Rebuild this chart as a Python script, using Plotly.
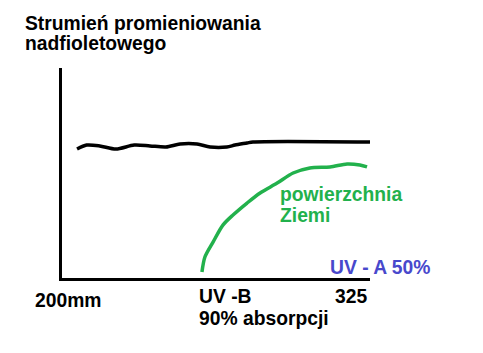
import plotly.graph_objects as go

# Top curve (flux above atmosphere), wavelength in nm vs relative flux
top_x = [206.1, 210.0, 215.3, 221.9, 229.3, 235.7, 242.2, 247.9, 254.8, 260.1, 266.9, 270.2, 275.1, 277.5, 325.0]
top_y = [61.4, 63.3, 62.9, 61.4, 63.3, 62.9, 62.4, 63.8, 63.8, 62.4, 62.4, 63.3, 64.3, 64.8, 64.8]

# Green curve (Earth's surface)
surf_x = [256.8, 258.0, 261.3, 265.3, 269.4, 275.1, 280.4, 287.3, 293.8, 300.6, 308.8, 315.7, 320.9, 323.8]
surf_y = [2.9, 10.0, 17.1, 25.2, 30.0, 35.7, 40.5, 45.2, 50.0, 52.4, 52.9, 54.3, 53.8, 52.9]

title_lines = ["Strumień promieniowania", "nadfioletowego"]
x_labels = ["200mm", "UV -B", "325"]
x_note = "90% absorpcji"
uva_label = "UV - A 50%"
surface_label = ["powierzchnia", "Ziemi"]

W, H = 483, 353
L, R, T, B = 62, 370, 68, 278

def px(xp):
    return (xp - L) / (R - L)

def py(yp):
    return (B - yp) / (B - T)

FONT = "Liberation Sans, Arial, sans-serif"
FS = 19.3
GREEN = "#22B14C"
BLUE = "#4848CC"

fig = go.Figure()
fig.add_trace(go.Scatter(x=top_x, y=top_y, mode="lines",
                         line=dict(color="black", width=3.5, shape="spline", smoothing=0.8),
                         hoverinfo="skip", showlegend=False))
fig.add_trace(go.Scatter(x=surf_x, y=surf_y, mode="lines",
                         line=dict(color=GREEN, width=3.5, shape="spline", smoothing=0.8),
                         hoverinfo="skip", showlegend=False))

def ann(text, xp, yp, color="black"):
    fig.add_annotation(text="<b>%s</b>" % text, xref="paper", yref="paper",
                       x=px(xp), y=py(yp), xanchor="left", yanchor="middle",
                       showarrow=False, font=dict(family=FONT, size=FS, color=color),
                       borderpad=0)

ann(title_lines[0], 24, 23)
ann(title_lines[1], 24, 43.5)
ann(x_labels[0], 34, 300.5)
ann(x_labels[1], 198, 296.5)
ann(x_labels[2], 334, 296.5)
ann(x_note, 198, 318.5)
ann(uva_label, 329, 267.5, BLUE)
ann(surface_label[0], 279, 194.5, GREEN)
ann(surface_label[1], 279, 215.5, GREEN)

fig.update_layout(
    width=W, height=H,
    margin=dict(l=L, r=W - R, t=T, b=H - B, pad=0),
    paper_bgcolor="white", plot_bgcolor="white",
    xaxis=dict(range=[200, 325], showgrid=False, zeroline=False, showticklabels=False,
               ticks="", showline=True, linecolor="black", linewidth=3, mirror=False),
    yaxis=dict(range=[0, 100], showgrid=False, zeroline=False, showticklabels=False,
               ticks="", showline=True, linecolor="black", linewidth=3, mirror=False),
    showlegend=False,
)

fig.write_html("out.html", config={"displayModeBar": False})
